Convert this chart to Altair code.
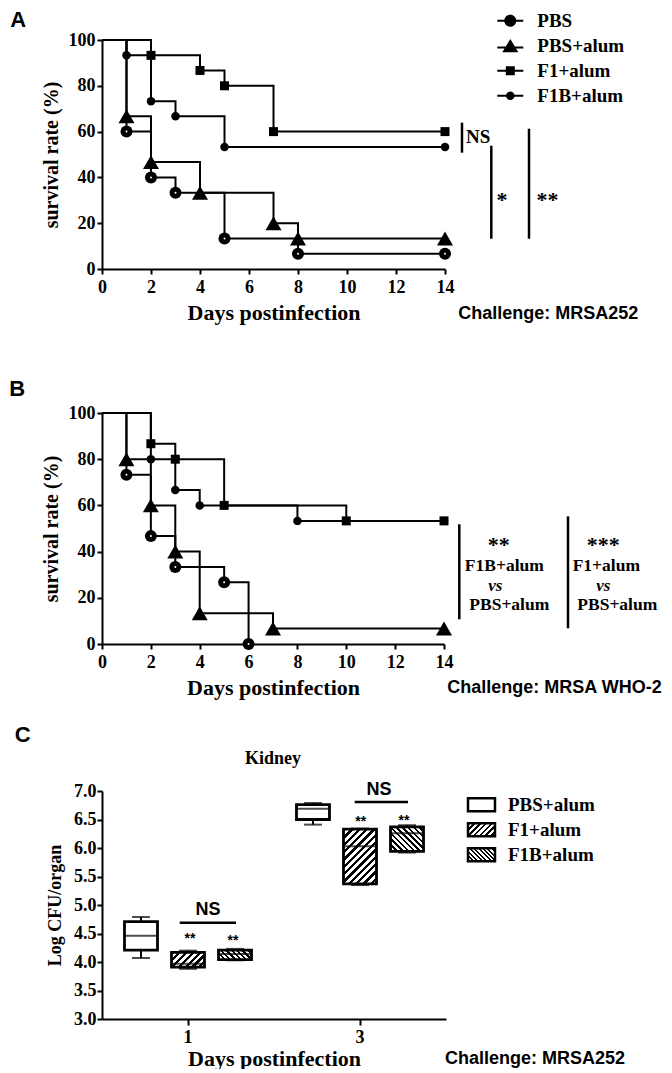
import json
import altair as alt
import pandas as pd

SERIF = "Liberation Serif"
SANS = "Liberation Sans"

# ---------------- data ----------------
GROUPS = ["PBS", "PBS+alum", "F1+alum", "F1B+alum"]
DRAW_ORDER = ["PBS", "PBS+alum", "F1B+alum", "F1+alum"]

# Panel A  (challenge MRSA252)
A_PBS_DAY = [0, 1, 2, 3, 5, 8, 14]
A_PBS_SURV = [100, 60, 40, 33.3, 13.3, 6.7, 6.7]
A_PBSALUM_DAY = [0, 1, 2, 4, 7, 8, 14]
A_PBSALUM_SURV = [100, 66.7, 46.7, 33.3, 20, 13.3, 13.3]
A_F1_DAY = [0, 2, 4, 5, 7, 14]
A_F1_SURV = [100, 93.3, 86.7, 80, 60, 60]
A_F1B_DAY = [0, 1, 2, 3, 5, 14]
A_F1B_SURV = [100, 93.3, 73.3, 66.7, 53.3, 53.3]

# Panel B  (challenge MRSA WHO-2)
B_PBS_DAY = [0, 1, 2, 3, 5, 6]
B_PBS_SURV = [100, 73.3, 46.7, 33.3, 26.7, 0]
B_PBSALUM_DAY = [0, 1, 2, 3, 4, 7, 14]
B_PBSALUM_SURV = [100, 80, 60, 40, 13.3, 6.7, 6.7]
B_F1_DAY = [0, 2, 3, 5, 10, 14]
B_F1_SURV = [100, 86.7, 80, 60, 53.3, 53.3]
B_F1B_DAY = [0, 2, 3, 4, 8, 14]
B_F1B_SURV = [100, 80, 66.7, 60, 53.3, 53.3]

X_TICKS = [0, 2, 4, 6, 8, 10, 12, 14]
Y_TICKS = [0, 20, 40, 60, 80, 100]

# Panel C  (kidney CFU, box plots)
C_GROUPS = ["PBS+alum", "F1+alum", "F1B+alum"]
C_DAYS = ["1", "3"]
C_DAY = ["1", "1", "1", "3", "3", "3"]
C_GROUP = ["PBS+alum", "F1+alum", "F1B+alum", "PBS+alum", "F1+alum", "F1B+alum"]
C_MIN = [4.07, 3.88, 4.03, 6.41, 5.35, 5.92]
C_Q1 = [4.21, 3.91, 4.04, 6.50, 5.37, 5.94]
C_MED = [4.46, 3.97, 4.14, 6.69, 6.03, 6.26]
C_Q3 = [4.71, 4.17, 4.21, 6.76, 6.33, 6.37]
C_MAX = [4.79, 4.20, 4.23, 6.79, 6.34, 6.40]
C_YTICKS = [3.0, 3.5, 4.0, 4.5, 5.0, 5.5, 6.0, 6.5, 7.0]

# ---------------- styling ----------------
MARKER = {"PBS": ("circle", 144), "PBS+alum": ("triangle-up", 256),
          "F1+alum": ("square", 81), "F1B+alum": ("circle", 72)}
LINE_BAR = "M-1.083,-0.083H1.083V0.083H-1.083Z"
LEGEND_PATHS = [
    LINE_BAR + "M0.5,0A0.5,0.5 0 1,1 -0.5,0A0.5,0.5 0 1,1 0.5,0Z",
    "M-1.083,0.067H1.083V0.233H-1.083Z" + "M0,-0.55L0.67,0.55L-0.67,0.55Z",
    LINE_BAR + "M-0.375,-0.375H0.375V0.375H-0.375Z",
    LINE_BAR + "M0.36,0A0.36,0.36 0 1,1 -0.36,0A0.36,0.36 0 1,1 0.36,0Z",
]
RECT_PATH = "M-1.2,-0.58H1.2V0.58H-1.2Z"

ONE = pd.DataFrame({"k": [0]})


def txt(text, x, y, size, font=SERIF, align="left", baseline="middle",
        style="normal", weight="bold"):
    return alt.Chart(ONE).mark_text(
        text=text, font=font, fontSize=size, fontWeight=weight, fontStyle=style,
        align=align, baseline=baseline, color="black"
    ).encode(x=alt.value(x), y=alt.value(y))


def vrule(x, y1, y2, w=2.5, opacity=1):
    return alt.Chart(ONE).mark_rule(color="black", strokeWidth=w, strokeOpacity=opacity).encode(
        x=alt.value(x), y=alt.value(y1), y2=alt.value(y2))


def hrule(x1, x2, y, w=2.5):
    return alt.Chart(ONE).mark_rule(color="black", strokeWidth=w).encode(
        x=alt.value(x1), x2=alt.value(x2), y=alt.value(y))


def km_frame(series):
    rows = []
    for g, days, surv in series:
        for i, (d, s) in enumerate(zip(days, surv)):
            rows.append({"group": g, "day": d, "surv": s, "event": i > 0})
    return pd.DataFrame(rows)


def survival_panel(df, W, H, anchor, leg, extras):
    x = alt.X("day:Q", scale=alt.Scale(domain=[0, 14], nice=False, zero=False),
              axis=alt.Axis(values=X_TICKS, title="Days postinfection", titleFontSize=22,
                            titlePadding=6, labelFlush=False, labelPadding=4, tickSize=5))
    y = alt.Y("surv:Q", scale=alt.Scale(domain=[0, 100], nice=False),
              axis=alt.Axis(values=Y_TICKS, title="survival rate (%)", titleFontSize=20,
                            titlePadding=7, labelFlush=False, labelPadding=2, tickSize=5))
    base = alt.Chart(df)
    legend_layer = base.mark_point(filled=True, color="black", opacity=0).encode(
        x=x, y=y,
        shape=alt.Shape("group:N", scale=alt.Scale(domain=GROUPS, range=LEGEND_PATHS),
                        legend=alt.Legend(title=None, orient="none", legendX=leg[0], legendY=leg[1],
                                          padding=0, symbolSize=576, symbolStrokeWidth=0,
                                          symbolFillColor="black",
                                          labelFont=SERIF, labelFontWeight="bold", labelFontSize=19,
                                          labelColor="black", labelOffset=leg[2],
                                          rowPadding=leg[3], symbolOffset=0)))
    lines = base.mark_line(interpolate="step-after", color="black", strokeWidth=2).encode(
        x=x, y=y, detail="group:N")
    point_layers = []
    for g in DRAW_ORDER:
        shp, sz = MARKER[g]
        point_layers.append(
            base.transform_filter(f"datum.event && datum.group == '{g}'")
            .mark_point(filled=True, color="black", opacity=1, shape=shp, size=sz)
            .encode(x=x, y=y))
    dots = base.transform_filter("datum.event && datum.group == 'PBS'").mark_point(
        filled=True, color="white", size=4, opacity=1).encode(x=x, y=y)
    anchor_rule = vrule(anchor[0], anchor[1], anchor[2], w=1, opacity=0)
    return alt.layer(anchor_rule, legend_layer, lines, *point_layers, dots, *extras).properties(
        width=W, height=H)


def ordered(series):
    return sorted(series, key=lambda s: DRAW_ORDER.index(s[0]))


# ---------------- panel A ----------------
dfA = km_frame(ordered([
    ("PBS", A_PBS_DAY, A_PBS_SURV), ("PBS+alum", A_PBSALUM_DAY, A_PBSALUM_SURV),
    ("F1+alum", A_F1_DAY, A_F1_SURV), ("F1B+alum", A_F1B_DAY, A_F1B_SURV)]))
extrasA = [
    txt("A", -91.7, -12.6, 22, font=SANS, baseline="alphabetic"),
    vrule(360, 82.7, 112.7), txt("NS", 364, 97, 19),
    vrule(389.3, 105.7, 198.7), txt("*", 400, 166.7, 22, align="center", baseline="alphabetic"),
    vrule(427, 88.7, 198.7), txt("**", 445.5, 166.7, 22, align="center", baseline="alphabetic"),
    txt("Challenge: MRSA252", 356.3, 273.7, 18, font=SANS),
]
panelA = survival_panel(dfA, 343, 229, (-93.7, -31.3, 320.7), (396.3, -31.3, 15, 3), extrasA)

# ---------------- panel B ----------------
dfB = km_frame(ordered([
    ("PBS", B_PBS_DAY, B_PBS_SURV), ("PBS+alum", B_PBSALUM_DAY, B_PBSALUM_SURV),
    ("F1+alum", B_F1_DAY, B_F1_SURV), ("F1B+alum", B_F1B_DAY, B_F1B_SURV)]))
extrasB = [
    txt("B", -92.7, -16.7, 22, font=SANS, baseline="alphabetic"),
    vrule(357.3, 111.3, 206.3), vrule(466, 103.3, 215.3),
    txt("**", 396.8, 139, 22, align="center", baseline="alphabetic"),
    txt("F1B+alum", 402.3, 153, 17.5, align="center"),
    txt("vs", 393.3, 172.5, 17, align="center", style="italic"),
    txt("PBS+alum", 407.3, 192, 17.5, align="center"),
    txt("***", 501.3, 139, 22, align="center", baseline="alphabetic"),
    txt("F1+alum", 504.3, 153, 17.5, align="center"),
    txt("vs", 501.3, 172.5, 17, align="center", style="italic"),
    txt("PBS+alum", 515.3, 192, 17.5, align="center"),
    txt("Challenge: MRSA WHO-2", 345.3, 275.3, 18, font=SANS),
]
panelB = survival_panel(dfB, 342, 231, (-92.7, -41.7, 293.3), (395.8, -33, 14.5, 3), extrasB)

# ---------------- panel C ----------------
WC, HC = 344, 228
cdf = pd.DataFrame({"day": C_DAY, "group": C_GROUP, "lo": C_MIN, "q1": C_Q1,
                    "med": C_MED, "q3": C_Q3, "hi": C_MAX})


def hatch(w, h, direction, period):
    s = (w + h) / (w * w + h * h)
    n = max(1, round((w + h) / (2 ** 0.5 * period)))
    stops = []
    for k in range(n):
        a, b, c = k / n, (k + 0.45) / n, (k + 1) / n
        stops += [{"offset": round(a, 4), "color": "black"}, {"offset": round(b, 4), "color": "black"},
                  {"offset": round(b, 4), "color": "white"}, {"offset": round(c, 4), "color": "white"}]
    if direction == "/":
        return {"gradient": "linear", "x1": 0, "y1": 0, "x2": round(s * w, 4), "y2": round(s * h, 4), "stops": stops}
    return {"gradient": "linear", "x1": 0, "y1": 1, "x2": round(s * w, 4), "y2": round(1 - s * h, 4), "stops": stops}


HATCH_DIR = {"F1+alum": ("/", 5.0), "F1B+alum": ("\\", 4.0)}

xC = alt.X("day:N", scale=alt.Scale(domain=C_DAYS, paddingInner=0.18, paddingOuter=0.09),
           axis=alt.Axis(title="Days postinfection", titleFontSize=22, labelAngle=0,
                         titlePadding=2, labelPadding=3, tickSize=6))
xoC = alt.XOffset("group:N", scale=alt.Scale(domain=C_GROUPS, paddingInner=0, paddingOuter=0))
scC = alt.Scale(domain=[3, 7], nice=False, zero=False)
axC = alt.Axis(values=C_YTICKS, format=".1f", title="Log CFU/organ", titleFontSize=18,
               titlePadding=9, labelFlush=False, labelPadding=1, tickSize=5)


def yC(field):
    return alt.Y(field, scale=scC, axis=axC)


baseC = alt.Chart(cdf)
legend_ranges = ["white"] + [alt.ExprRef(expr=json.dumps(hatch(27, 13, HATCH_DIR[g][0], HATCH_DIR[g][1] * 0.8)))
                             for g in C_GROUPS[1:]]
legendC = baseC.mark_bar(width=33, opacity=0).encode(
    x=xC, xOffset=xoC, y=yC("q1:Q"), y2="q3:Q",
    fill=alt.Fill("group:N", scale=alt.Scale(domain=C_GROUPS, range=legend_ranges),
                  legend=alt.Legend(title=None, orient="none", legendX=367, legendY=1.2, padding=0,
                                    symbolType=RECT_PATH, symbolSize=506, symbolStrokeColor="black",
                                    symbolStrokeWidth=2.5, labelFont=SERIF, labelFontWeight="bold",
                                    labelFontSize=19, labelColor="black", labelOffset=14,
                                    rowPadding=0)))
whisk = baseC.mark_rule(color="black", strokeWidth=2).encode(x=xC, xOffset=xoC, y=yC("lo:Q"), y2="hi:Q")
cap_lo = baseC.mark_tick(color="black", size=18, thickness=2).encode(x=xC, xOffset=xoC, y=yC("lo:Q"))
cap_hi = baseC.mark_tick(color="black", size=18, thickness=2).encode(x=xC, xOffset=xoC, y=yC("hi:Q"))
box_layers = []
for i in range(len(C_DAY)):
    g, d = C_GROUP[i], C_DAY[i]
    if g in HATCH_DIR:
        h_px = (C_Q3[i] - C_Q1[i]) * HC / 4.0
        fill = hatch(33, h_px, HATCH_DIR[g][0], HATCH_DIR[g][1])
    else:
        fill = "white"
    box_layers.append(
        baseC.transform_filter(f"datum.group == '{g}' && datum.day == '{d}'")
        .mark_bar(width=33, fill=fill, stroke="black", strokeWidth=2.8, opacity=1)
        .encode(x=xC, xOffset=xoC, y=yC("q1:Q"), y2="q3:Q"))
medians = baseC.mark_tick(color="black", size=33, thickness=2).encode(x=xC, xOffset=xoC, y=yC("med:Q"))

extrasC = [
    txt("C", -87.3, -49, 22, font=SANS, baseline="alphabetic"),
    txt("Kidney", 171, -32, 18, align="center"),
    hrule(77.7, 134, 131.7), txt("NS", 106, 119, 18, font=SANS, align="center"),
    txt("**", 88, 151.7, 14, font=SANS, align="center", baseline="alphabetic"),
    txt("**", 131, 154, 14, font=SANS, align="center", baseline="alphabetic"),
    hrule(252.7, 306, 11), txt("NS", 277, -1, 18, font=SANS, align="center"),
    txt("**", 258.7, 35, 14, font=SANS, align="center", baseline="alphabetic"),
    txt("**", 302, 34, 14, font=SANS, align="center", baseline="alphabetic"),
    txt("Challenge: MRSA252", 343, 268, 18, font=SANS),
]
panelC = alt.layer(vrule(-91, -74, 0, w=1, opacity=0), legendC, whisk, cap_lo, cap_hi,
                   *box_layers, medians, *extrasC).resolve_scale(fill="independent").properties(
    width=WC, height=HC)

chart = alt.vconcat(panelA, panelB, panelC, spacing=10).resolve_scale(
    fill="independent").resolve_legend(fill="independent").properties(padding=0).configure_view(
    stroke=None
).configure_axis(
    domainColor="black", domainWidth=2, tickColor="black", tickWidth=2,
    labelColor="black", titleColor="black", labelFont=SERIF, titleFont=SERIF,
    labelFontWeight="bold", titleFontWeight="bold", labelFontSize=18, grid=False,
    labelOverlap=False
)

chart.save("out.html", embed_options={"renderer": "svg", "actions": False})
